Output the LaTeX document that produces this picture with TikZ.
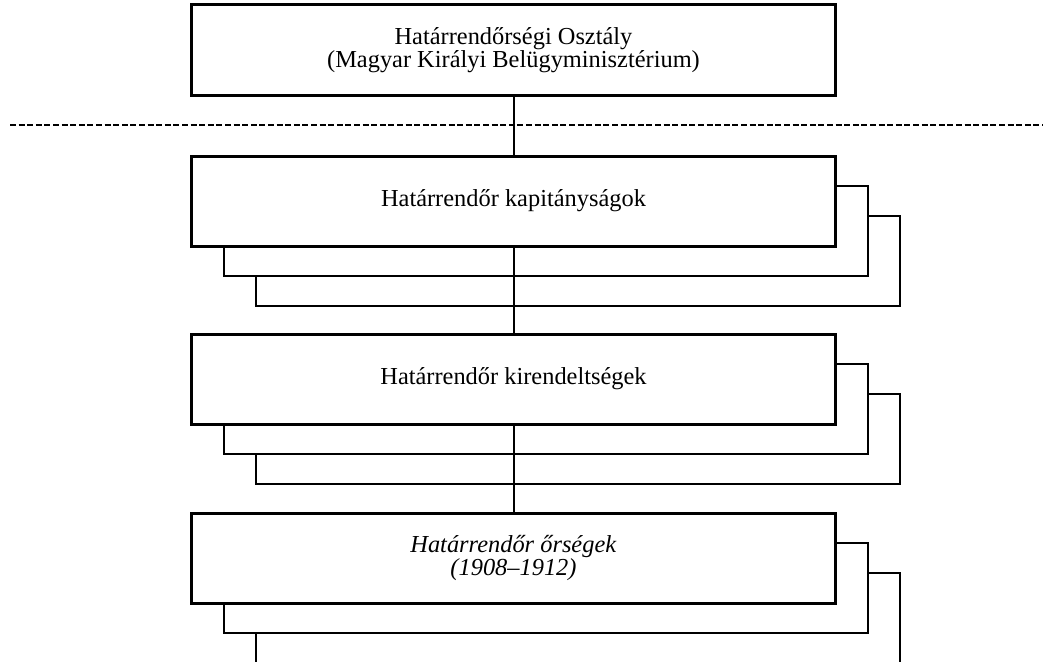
\documentclass[tikz,border=0pt]{standalone}
\usepackage{fontspec}
\setmainfont{Liberation Serif}
\begin{document}
\begin{tikzpicture}[x=1pt,y=-1pt,
  front/.style={draw,line width=3pt,fill=white,minimum width=644pt,minimum height=90pt,inner sep=0pt,align=center,font=\fontsize{24.4}{22.5}\selectfont},
  back/.style={draw,line width=2pt,fill=white,minimum width=644pt,minimum height=90pt,inner sep=0pt},
  conn/.style={line width=2pt},
  sep/.style={line width=1.8pt,dash pattern=on 6pt off 2.6pt}]
\useasboundingbox (0,0) rectangle (1048,661);
\clip (0,0) rectangle (1048,661);
\node[front] (top) at (513.5,50) {\raisebox{-2pt}{\parbox{600pt}{\centering Határrendőrségi Osztály\\(Magyar Királyi Belügyminisztérium)}}};
\coordinate (sl) at (10,125);
\coordinate (sr) at (1043,125);
\draw[sep] (sl) -- (sr);
% level 1
\node[back] (k1b) at (577.5,261) {};
\node[back] (k1a) at (545.5,231) {};
\node[front] (k1) at (513.5,201) {Határrendőr kapitányságok};
% level 2
\node[back] (k2b) at (577.5,439) {};
\node[back] (k2a) at (545.5,409) {};
\node[front] (k2) at (513.5,379) {Határrendőr kirendeltségek};
% level 3
\node[back] (k3b) at (577.5,618) {};
\node[back] (k3a) at (545.5,588) {};
\node[front] (k3) at (513.5,558) {\textit{Határrendőr őrségek}\\\textit{(1908–1912)}};
% connectors
\draw[conn] (top) -- (k1);
\draw[conn] (k1) -- (k2);
\draw[conn] (k2) -- (k3);
\end{tikzpicture}
\end{document}
